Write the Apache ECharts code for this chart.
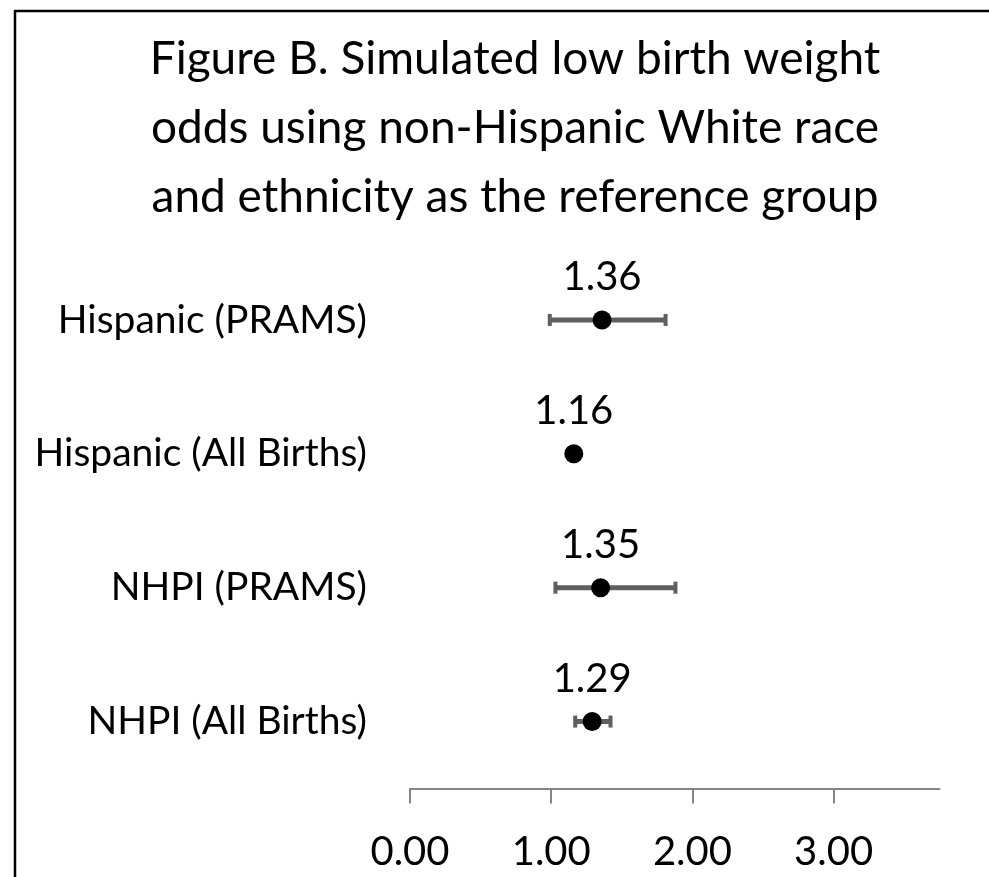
<!DOCTYPE html>
<html>
<head>
<meta charset="utf-8">
<script src="https://cdn.jsdelivr.net/npm/echarts@6/dist/echarts.min.js"></script>
<style>
html,body{margin:0;padding:0;background:#fff;}
#chart{width:989px;height:877px;}
</style>
</head>
<body>
<div id="chart"></div>
<script>
const titleText = 'Figure B. Simulated low birth weight\nodds using non-Hispanic White race\nand ethnicity as the reference group';
const categories = ['Hispanic (PRAMS)', 'Hispanic (All Births)', 'NHPI (PRAMS)', 'NHPI (All Births)'];
const oddsValues = [1.36, 1.16, 1.35, 1.29];
const lowerCI = [0.99, 1.14, 1.03, 1.17];
const upperCI = [1.81, 1.18, 1.88, 1.42];
const xTicks = [0, 1, 2, 3];

const FONT = 'Lato';
const chart = echarts.init(document.getElementById('chart'));

const errData = categories.map((c, i) => [lowerCI[i], upperCI[i], i]);
const pointData = categories.map((c, i) => [oddsValues[i], i]);

chart.setOption({
  animation: false,
  backgroundColor: '#ffffff',
  graphic: [{
    type: 'rect',
    shape: { x: 15, y: 11, width: 1200, height: 1200 },
    style: { fill: 'none', stroke: '#000', lineWidth: 2.5 },
    silent: true
  }],
  title: {
    text: titleText,
    left: 510,
    top: 20,
    textAlign: 'center',
    textStyle: { fontFamily: FONT, fontSize: 46, fontWeight: 'normal', color: '#000', lineHeight: 69 }
  },
  grid: { left: 410, right: 49.5, top: 253, bottom: 877 - 788.5, containLabel: false },
  xAxis: {
    type: 'value',
    min: 0,
    max: 3.75,
    interval: 1,
    axisLine: { show: true, lineStyle: { color: '#868686', width: 2 } },
    axisTick: { show: true, inside: false, length: 15, customValues: xTicks, lineStyle: { color: '#868686', width: 2 } },
    axisLabel: { customValues: xTicks, formatter: v => v.toFixed(2), fontFamily: FONT, fontSize: 40, color: '#000', margin: 44 },
    splitLine: { show: false }
  },
  yAxis: {
    type: 'category',
    data: categories,
    inverse: true,
    axisLine: { show: false },
    axisTick: { show: false },
    axisLabel: { fontFamily: FONT, fontSize: 39, color: '#000', margin: 43 },
    splitLine: { show: false }
  },
  series: [
    {
      type: 'custom',
      data: errData,
      encode: { x: [0, 1], y: 2 },
      renderItem: function (params, api) {
        const lo = api.coord([api.value(0), api.value(2)]);
        const hi = api.coord([api.value(1), api.value(2)]);
        const h = 6;
        const st = { stroke: '#5f5f5f', lineWidth: 5 };
        return {
          type: 'group',
          children: [
            { type: 'line', shape: { x1: lo[0], y1: lo[1], x2: hi[0], y2: hi[1] }, style: st },
            { type: 'line', shape: { x1: lo[0], y1: lo[1] - h, x2: lo[0], y2: lo[1] + h }, style: { stroke: '#5f5f5f', lineWidth: 4 } },
            { type: 'line', shape: { x1: hi[0], y1: hi[1] - h, x2: hi[0], y2: hi[1] + h }, style: { stroke: '#5f5f5f', lineWidth: 4 } }
          ]
        };
      },
      z: 2
    },
    {
      type: 'scatter',
      data: pointData,
      symbol: 'circle',
      symbolSize: 19,
      itemStyle: { color: '#000', opacity: 1 },
      label: {
        show: true,
        position: 'top',
        distance: 13,
        formatter: p => p.value[0].toFixed(2),
        fontFamily: FONT,
        fontSize: 40,
        color: '#000'
      },
      z: 3
    }
  ]
});
</script>
</body>
</html>
